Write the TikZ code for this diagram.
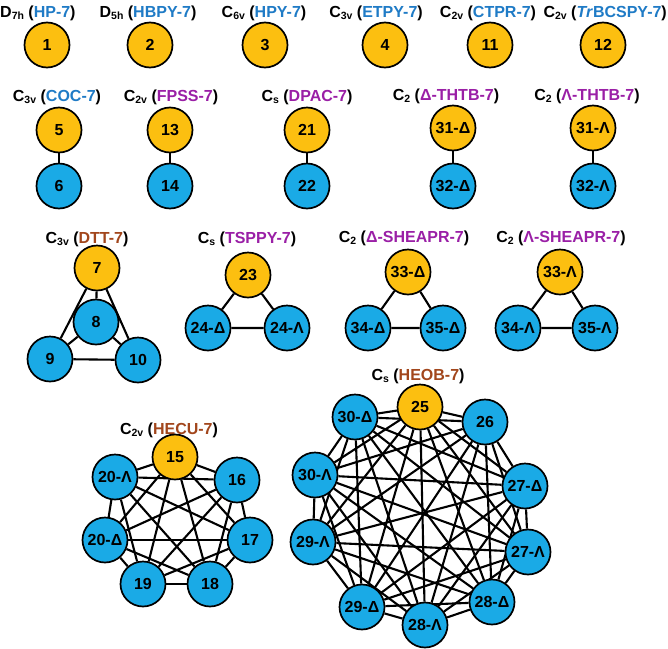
\documentclass[tikz,border=0pt]{standalone}
\usepackage{fontspec}
\setmainfont{Liberation Sans}
\usetikzlibrary{backgrounds}

\definecolor{gold}{HTML}{FCBF10}
\definecolor{sky}{HTML}{1AAAE6}
\definecolor{grpblue}{HTML}{1F7BC6}
\definecolor{grppurple}{HTML}{9A1FA6}
\definecolor{grpbrown}{HTML}{A2461C}

% point-group symbol with subscript
\newcommand\pgsym[2]{#1\raisebox{-0.35ex}{\fontsize{10.5}{10.5}\selectfont #2}}
% group heading: symbol, subscript, colour, code
\newcommand\grp[4]{\pgsym{#1}{#2} (\textcolor{#3}{#4})}

\tikzset{
  vtx/.style={circle, draw=black, line width=1.7pt, minimum size=45pt,
    inner sep=0pt, font=\fontsize{16}{16}\selectfont\bfseries},
  goldvtx/.style={vtx, fill=gold},
  bluevtx/.style={vtx, fill=sky},
  edge/.style={line width=2.1pt, black},
  heading/.style={anchor=base, inner sep=0pt,
    font=\fontsize{16}{16}\selectfont\bfseries},
}

\begin{document}
\begin{tikzpicture}[x=1pt, y=-1pt]
\useasboundingbox (0,0) rectangle (668,648);

% ---- row 1: single vertices
\node[heading, anchor=base west] (h1) at (0,17) {\grp{D}{7h}{grpblue}{HP-7}};
\node[heading] (h2) at (148,17) {\grp{D}{5h}{grpblue}{HBPY-7}};
\node[heading] (h3) at (264,17) {\grp{C}{6v}{grpblue}{HPY-7}};
\node[heading] (h4) at (376,17) {\grp{C}{3v}{grpblue}{ETPY-7}};
\node[heading] (h11) at (488,17) {\grp{C}{2v}{grpblue}{CTPR-7}};
\node[heading, anchor=base east] (h12) at (667,17) {\grp{C}{2v}{grpblue}{\textit{Tr}BCSPY-7}};

\node[goldvtx] (v1) at (47,45) {1};
\node[goldvtx] (v2) at (150,45) {2};
\node[goldvtx] (v3) at (265,45) {3};
\node[goldvtx] (v4) at (385,45) {4};
\node[goldvtx] (v11) at (490,45) {11};
\node[goldvtx] (v12) at (603,45) {12};

% ---- row 2: pairs
\node[heading] (h5) at (57,101) {\grp{C}{3v}{grpblue}{COC-7}};
\node[heading] (h13) at (171,101) {\grp{C}{2v}{grppurple}{FPSS-7}};
\node[heading] (h21) at (307,101) {\grp{C}{s}{grppurple}{DPAC-7}};
\node[heading] (h31d) at (446,100) {\grp{C}{2}{grppurple}{Δ-THTB-7}};
\node[heading] (h31l) at (587,100) {\grp{C}{2}{grppurple}{Λ-THTB-7}};

\node[goldvtx] (v5) at (59,130) {5};
\node[bluevtx] (v6) at (59,186) {6};
\node[goldvtx] (v13) at (170,130) {13};
\node[bluevtx] (v14) at (170,186) {14};
\node[goldvtx] (v21) at (307,130) {21};
\node[bluevtx] (v22) at (307,186) {22};
\node[goldvtx] (v31d) at (453,128) {31-Δ};
\node[bluevtx] (v32d) at (453,186) {32-Δ};
\node[goldvtx] (v31l) at (593,128) {31-Λ};
\node[bluevtx] (v32l) at (593,186) {32-Λ};

% ---- row 3: triangles
\node[heading] (h7) at (87,243) {\grp{C}{3v}{grpbrown}{DTT-7}};
\node[heading] (h23) at (247,243) {\grp{C}{s}{grppurple}{TSPPY-7}};
\node[heading] (h33d) at (404,242) {\grp{C}{2}{grppurple}{Δ-SHEAPR-7}};
\node[heading] (h33l) at (561,242) {\grp{C}{2}{grppurple}{Λ-SHEAPR-7}};

\node[goldvtx] (v7) at (97,268) {7};
\node[bluevtx] (v8) at (96,322) {8};
\node[bluevtx] (v9) at (50,359) {9};
\node[bluevtx] (v10) at (138,360) {10};

\node[goldvtx] (v23) at (248,275) {23};
\node[bluevtx] (v24d) at (208,328) {24-Δ};
\node[bluevtx] (v24l) at (287,328) {24-Λ};

\node[goldvtx] (v33d) at (408,272) {33-Δ};
\node[bluevtx] (v34d) at (368,328) {34-Δ};
\node[bluevtx] (v35d) at (443,328) {35-Δ};

\node[goldvtx] (v33l) at (560,272) {33-Λ};
\node[bluevtx] (v34l) at (518,328) {34-Λ};
\node[bluevtx] (v35l) at (595,328) {35-Λ};

% ---- heptagon
\node[heading] (h15) at (169,434) {\grp{C}{2v}{grpbrown}{HECU-7}};
\node[goldvtx] (v15) at (175,457) {15};
\node[bluevtx] (v16) at (237,480) {16};
\node[bluevtx] (v17) at (250,540) {17};
\node[bluevtx] (v18) at (210,584) {18};
\node[bluevtx] (v19) at (143,584) {19};
\node[bluevtx] (v20d) at (105,540) {20-Δ};
\node[bluevtx] (v20l) at (115,477) {20-Λ};

% ---- decagon
\node[heading] (h25) at (418,380) {\grp{C}{s}{grpbrown}{HEOB-7}};
\node[goldvtx] (v25) at (420,407) {25};
\node[bluevtx] (v26) at (485,422) {26};
\node[bluevtx] (v27d) at (525,486) {27-Δ};
\node[bluevtx] (v27l) at (528,552) {27-Λ};
\node[bluevtx] (v28d) at (492,602) {28-Δ};
\node[bluevtx] (v28l) at (425,625) {28-Λ};
\node[bluevtx] (v29d) at (362,607) {29-Δ};
\node[bluevtx] (v29l) at (313,542) {29-Λ};
\node[bluevtx] (v30l) at (315,475) {30-Λ};
\node[bluevtx] (v30d) at (355,417) {30-Δ};

\begin{pgfonlayer}{background}
  \fill[white] (0,0) rectangle (668,648);
  \draw[edge] (v5) -- (v6);
  \draw[edge] (v13) -- (v14);
  \draw[edge] (v21) -- (v22);
  \draw[edge] (v31d) -- (v32d);
  \draw[edge] (v31l) -- (v32l);

  \draw[edge] (v7) -- (v8);
  \draw[edge] (v7) -- (v9);
  \draw[edge] (v7) -- (v10);
  \draw[edge] (v8) -- (v9);
  \draw[edge] (v8) -- (v10);
  \draw[edge] (v9) -- (v10);

  \draw[edge] (v23) -- (v24d) -- (v24l) -- (v23);
  \draw[edge] (v33d) -- (v34d) -- (v35d) -- (v33d);
  \draw[edge] (v33l) -- (v34l) -- (v35l) -- (v33l);

  % complete graphs
  \foreach \a [count=\i] in {v15,v16,v17,v18,v19,v20d,v20l}
    \foreach \b [count=\j] in {v15,v16,v17,v18,v19,v20d,v20l}
      {\ifnum\j>\i \draw[edge] (\a) -- (\b);\fi}
  \foreach \a [count=\i] in {v25,v26,v27d,v27l,v28d,v28l,v29d,v29l,v30l,v30d}
    \foreach \b [count=\j] in {v25,v26,v27d,v27l,v28d,v28l,v29d,v29l,v30l,v30d}
      {\ifnum\j>\i \draw[edge] (\a) -- (\b);\fi}
\end{pgfonlayer}
\end{tikzpicture}
\end{document}
